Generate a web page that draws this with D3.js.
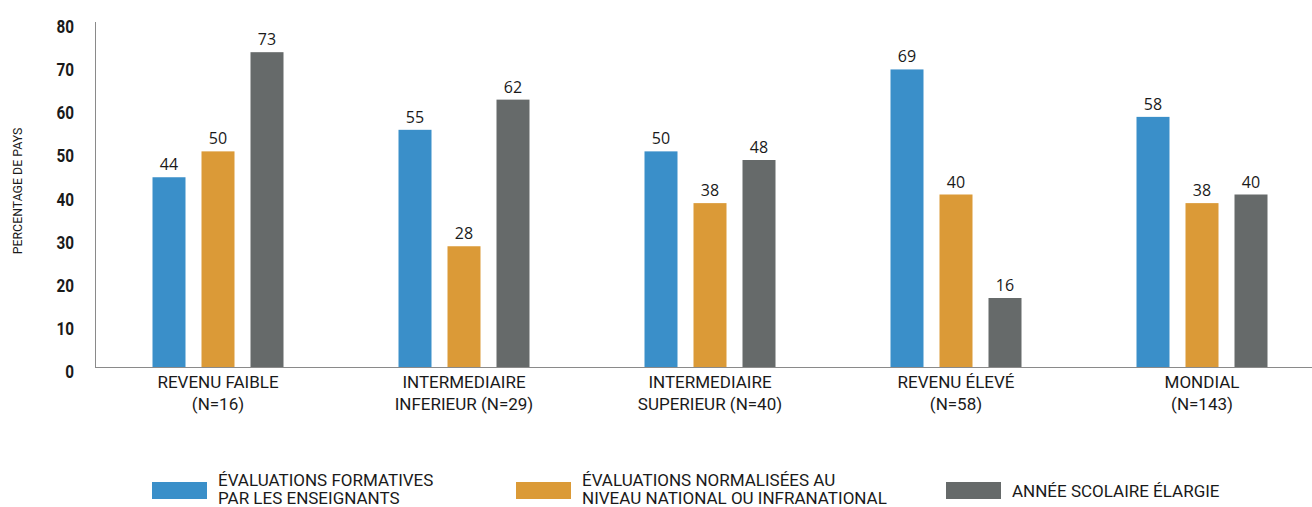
<!DOCTYPE html>
<html><head><meta charset="utf-8">
<script src="https://cdn.jsdelivr.net/npm/d3@7"></script>
<style>
body{margin:0;background:#fff;}
svg{display:block;}
</style></head>
<body>
<svg id="chart" width="1312" height="507"></svg>
<script>
const categories = [["REVENU FAIBLE","(N=16)"],["INTERMEDIAIRE","INFERIEUR (N=29)"],["INTERMEDIAIRE","SUPERIEUR (N=40)"],["REVENU ÉLEVÉ","(N=58)"],["MONDIAL","(N=143)"]];
const seriesNames = [["ÉVALUATIONS FORMATIVES","PAR LES ENSEIGNANTS"],["ÉVALUATIONS NORMALISÉES AU","NIVEAU NATIONAL OU INFRANATIONAL"],["ANNÉE SCOLAIRE ÉLARGIE"]];
const formatives = [44, 55, 50, 69, 58];
const normalisees = [50, 28, 38, 40, 38];
const anneeElargie = [73, 62, 48, 16, 40];
const yTicks = [0, 10, 20, 30, 40, 50, 60, 70, 80];
const colors = ["#3a8fc9", "#db9a37", "#666a6a"];

const series = [formatives, normalisees, anneeElargie];
const svg = d3.select("#chart");
const mLeft = 95, mRight = 1325, mTop = 22, mBottom = 367;
const x = d3.scaleBand().domain(d3.range(categories.length)).range([mLeft, mRight]);
const inner = d3.scaleBand().domain(d3.range(series.length)).range([-65.5, 65.5]).paddingInner(16 / 49).paddingOuter(0);
const y = d3.scaleLinear().domain([0, 80]).range([mBottom, mTop]);

// axes lines
svg.append("line").attr("x1", mLeft).attr("x2", 1312).attr("y1", mBottom + 0.5).attr("y2", mBottom + 0.5).attr("stroke", "#8a8a8a").attr("stroke-width", 1);
svg.append("line").attr("x1", mLeft + 0.5).attr("x2", mLeft + 0.5).attr("y1", mTop).attr("y2", mBottom).attr("stroke", "#8a8a8a").attr("stroke-width", 1);

// y tick labels (condensed look)
svg.append("g").selectAll("text").data(yTicks).join("text")
  .attr("transform", d => "translate(74," + (y(d) + 11) + ") scale(0.85,1)")
  .attr("text-anchor", "end")
  .attr("font-family", "Roboto,sans-serif")
  .attr("font-weight", 700)
  .attr("font-size", 18).attr("fill", "#1a1a1a")
  .text(d => d);

// y axis title
svg.append("text")
  .attr("transform", "translate(22,191) rotate(-90) scale(0.95,1)")
  .attr("text-anchor", "middle")
  .attr("font-family", "Roboto,sans-serif")
  .attr("font-size", 13).attr("fill", "#1a1a1a")
  .text("PERCENTAGE DE PAYS");

// bars
const groups = svg.append("g").selectAll("g").data(categories).join("g")
  .attr("transform", (d, i) => "translate(" + (x(i) + x.bandwidth() / 2) + ",0)");
groups.each(function(c, i) {
  const g = d3.select(this);
  series.forEach((s, j) => {
    g.append("rect")
      .attr("x", inner(j)).attr("width", inner.bandwidth())
      .attr("y", y(s[i])).attr("height", y(0) - y(s[i]))
      .attr("fill", colors[j]);
    g.append("text")
      .attr("x", inner(j) + inner.bandwidth() / 2).attr("y", y(s[i]) - 7)
      .attr("text-anchor", "middle")
      .attr("font-family", "'Open Sans',sans-serif")
      .attr("font-size", 16).attr("fill", "#1a1a1a")
      .text(s[i]);
  });
  const t = g.append("text").attr("text-anchor", "middle")
    .attr("font-family", "Roboto,sans-serif").attr("font-size", 17).attr("fill", "#1a1a1a");
  c.forEach((line, k) => {
    t.append("tspan").attr("x", 0).attr("y", 388 + k * 22).text(line);
  });
});

// legend
const legendX = [152, 516, 946];
const leg = svg.append("g").selectAll("g").data(seriesNames).join("g")
  .attr("transform", (d, i) => "translate(" + legendX[i] + ",482)");
leg.append("rect").attr("width", 55).attr("height", 17).attr("fill", (d, i) => colors[i]);
leg.each(function(d) {
  const t = d3.select(this).append("text")
    .attr("font-family", "Roboto,sans-serif").attr("font-size", 17).attr("fill", "#1a1a1a");
  if (d.length === 1) {
    t.append("tspan").attr("x", 66).attr("y", 15).text(d[0]);
  } else {
    d.forEach((line, k) => t.append("tspan").attr("x", 66).attr("y", 4 + k * 18).text(line));
  }
});
</script>
</body></html>
